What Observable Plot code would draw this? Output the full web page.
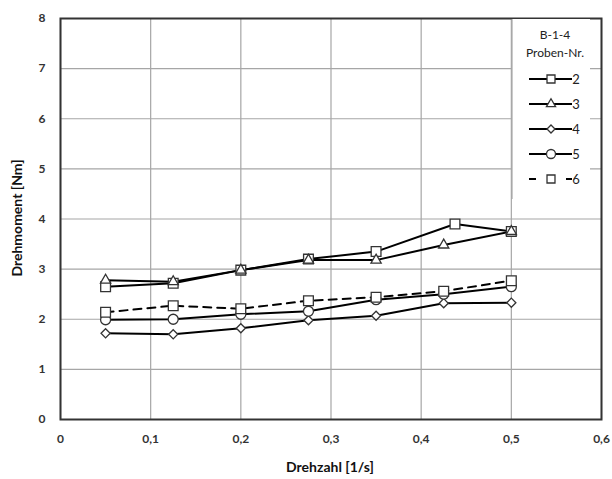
<!DOCTYPE html>
<html><head><meta charset="utf-8">
<script src="https://cdn.jsdelivr.net/npm/d3@7"></script>
<script src="https://cdn.jsdelivr.net/npm/@observablehq/plot@0.6"></script>
<style>body{margin:0;background:#fff}</style>
</head><body><div id="chart"></div>
<script>
const xTicks = [0, 0.1, 0.2, 0.3, 0.4, 0.5, 0.6];
const yTicks = [0, 1, 2, 3, 4, 5, 6, 7, 8];
const legendTitle = ["B-1-4", "Proben-Nr."];
const seriesNames = ["2", "3", "4", "5", "6"];
const x2 = [0.05, 0.125, 0.2, 0.275, 0.35, 0.4375, 0.5];
const y2 = [2.65, 2.72, 2.98, 3.2, 3.35, 3.9, 3.75];
const x3 = [0.05, 0.125, 0.2, 0.275, 0.35, 0.425, 0.5];
const y3 = [2.78, 2.75, 2.98, 3.18, 3.18, 3.48, 3.75];
const x4 = [0.05, 0.125, 0.2, 0.275, 0.35, 0.425, 0.5];
const y4 = [1.72, 1.70, 1.82, 1.98, 2.07, 2.32, 2.33];
const x5 = [0.05, 0.125, 0.2, 0.275, 0.35, 0.425, 0.5];
const y5 = [1.99, 2.0, 2.1, 2.16, 2.39, 2.5, 2.65];
const x6 = [0.05, 0.125, 0.2, 0.275, 0.35, 0.425, 0.5];
const y6 = [2.14, 2.27, 2.21, 2.37, 2.44, 2.56, 2.77];

const symbols = {"2": "square", "3": "triangle", "4": "diamond2", "5": "circle", "6": "square"};
const radii = {"2": 5.5, "3": 3.8, "4": 4.1, "5": 5, "6": 5.5};
const dashes = {"2": null, "3": null, "4": null, "5": null, "6": "8,6"};
const xs = [x2, x3, x4, x5, x6], ys = [y2, y3, y4, y5, y6];
const series = seriesNames.map((name, i) => ({name, data: xs[i].map((x, j) => ({x, y: ys[i][j]}))}));

const fmt = d => String(d).replace(".", ",");
const font = "Lato, 'Open Sans', sans-serif";

const marks = [
  Plot.gridX(xTicks, {stroke: "#a6a6a6", strokeOpacity: 1, strokeWidth: 1.2}),
  Plot.gridY(yTicks, {stroke: "#a6a6a6", strokeOpacity: 1, strokeWidth: 1.2}),
  Plot.axisX(xTicks, {tickSize: 0, tickPadding: 15, tickFormat: fmt, label: null, fontSize: 12, fontWeight: "bold", fill: "#333"}),
  Plot.axisY(yTicks, {tickSize: 0, tickPadding: 15, tickFormat: fmt, label: null, fontSize: 12, fontWeight: "bold", fill: "#333"})
];
for (const s of series) {
  marks.push(Plot.line(s.data, {x: "x", y: "y", stroke: "#000", strokeWidth: 2, strokeDasharray: dashes[s.name]}));
}
for (const s of series) {
  marks.push(Plot.dot(s.data, {x: "x", y: "y", symbol: symbols[s.name], r: radii[s.name], fill: "#fff", stroke: "#333", strokeWidth: 1.3}));
}
marks.push(Plot.frame({stroke: "#333", strokeWidth: 2}));

const chart = Plot.plot({
  width: 612, height: 479,
  marginLeft: 60, marginRight: 11, marginTop: 18, marginBottom: 60,
  style: {fontFamily: font, background: "#fff"},
  x: {domain: [0, 0.6]},
  y: {domain: [0, 8]},
  marks
});
document.getElementById("chart").append(chart);

// axis titles and legend (layout only)
const svg = d3.select(chart);
svg.append("text").attr("x", 330).attr("y", 472).attr("text-anchor", "middle")
  .attr("font-family", font).attr("font-size", 14).attr("font-weight", "bold").attr("fill", "#111").text("Drehzahl [1/s]");
svg.append("text").attr("transform", "translate(22,218) rotate(-90)").attr("text-anchor", "middle")
  .attr("font-family", font).attr("font-size", 14).attr("font-weight", "bold").attr("fill", "#111").text("Drehmoment [Nm]");

const lg = svg.append("g");
lg.append("rect").attr("x", 512).attr("y", 19).attr("width", 78).attr("height", 180).attr("fill", "#fff");
lg.append("line").attr("x1", 512).attr("x2", 512).attr("y1", 19).attr("y2", 199).attr("stroke", "#a6a6a6").attr("stroke-width", 1.2);
legendTitle.forEach((t, i) => lg.append("text").attr("x", 555).attr("y", 39 + i * 18).attr("text-anchor", "middle")
  .attr("font-family", font).attr("font-size", 12).attr("fill", "#222").text(t));
const symMap = {square: d3.symbolSquare, triangle: d3.symbolTriangle, diamond2: d3.symbolDiamond2, circle: d3.symbolCircle};
const legendR = {"2": 4.5, "3": 3.4, "4": 3.6, "5": 4.5, "6": 4.5};
seriesNames.forEach((name, i) => {
  const cy = 79 + i * 25;
  lg.append("line").attr("x1", 529).attr("x2", 572).attr("y1", cy).attr("y2", cy)
    .attr("stroke", "#000").attr("stroke-width", 2).attr("stroke-dasharray", dashes[name] ? "7,11.5" : null);
  const r = legendR[name];
  lg.append("path").attr("transform", `translate(551,${cy})`)
    .attr("d", d3.symbol(symMap[symbols[name]], r * r * Math.PI)())
    .attr("fill", "#fff").attr("stroke", "#333").attr("stroke-width", 1.3);
  lg.append("text").attr("x", 576).attr("y", cy + 4.5).attr("font-family", font).attr("font-size", 13)
    .attr("fill", "#222").text(name);
});
</script></body></html>
